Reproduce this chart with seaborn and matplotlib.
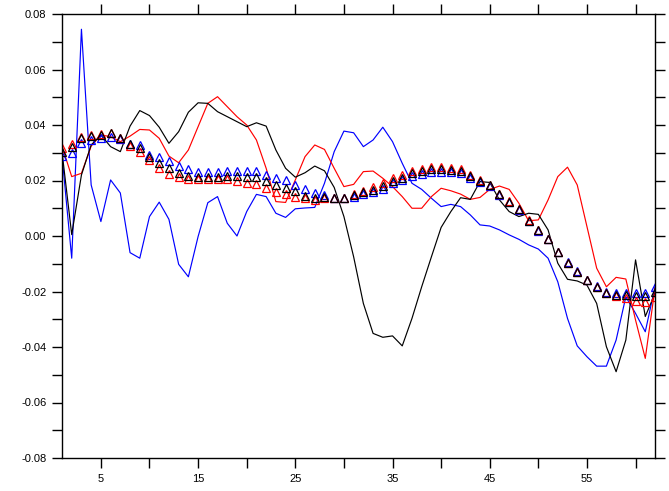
import numpy as np
import pandas as pd
import matplotlib
matplotlib.use("Agg")
import matplotlib.pyplot as plt
import seaborn as sns
from matplotlib.ticker import FixedLocator, NullFormatter, FixedFormatter

sns.set_style("ticks")
plt.rcParams['font.family'] = ['Liberation Sans', 'DejaVu Sans']

x = list(range(1, 63))

black_line = [0.0304, 0.0005, 0.022, 0.0328, 0.0364, 0.0322, 0.0304, 0.0396, 0.0452, 0.0434,
              0.0392, 0.0334, 0.0376, 0.0446, 0.048, 0.0478, 0.0448, 0.043, 0.0412, 0.0394,
              0.0408, 0.0396, 0.031, 0.0244, 0.0212, 0.0228, 0.0252, 0.0235, 0.0175, 0.007,
              -0.0075, -0.0243, -0.0351, -0.0365, -0.036, -0.0396, -0.0297, -0.0183, -0.0075, 0.0031,
              0.0088, 0.0138, 0.0132, 0.0196, 0.0193, 0.013, 0.0088, 0.007, 0.0082, 0.0078,
              0.0022, -0.0098, -0.0156, -0.0162, -0.0177, -0.0243, -0.0399, -0.0489, -0.0375, -0.0086,
              -0.029, -0.0207]

blue_line = [0.029, -0.008, 0.0745, 0.0184, 0.0052, 0.0202, 0.0155, -0.006, -0.008, 0.007,
             0.0122, 0.006, -0.0102, -0.0147, -0.0002, 0.012, 0.0142, 0.0046, 0.0, 0.0088,
             0.015, 0.0142, 0.0082, 0.0067, 0.0098, 0.0101, 0.0103, 0.019, 0.0304, 0.0378,
             0.0372, 0.0322, 0.0346, 0.0392, 0.034, 0.0262, 0.019, 0.0168, 0.0136, 0.0106,
             0.0114, 0.0106, 0.0076, 0.004, 0.0036, 0.0022, 0.0004, -0.0012, -0.0032, -0.0047,
             -0.008, -0.0165, -0.0297, -0.0396, -0.0435, -0.0469, -0.0469, -0.0375, -0.0219, -0.0279,
             -0.0345, -0.0183]

red_line = [0.0324, 0.0214, 0.0226, 0.0324, 0.0364, 0.0358, 0.034, 0.036, 0.0384, 0.0382,
            0.0352, 0.0288, 0.0264, 0.031, 0.0394, 0.0478, 0.0502, 0.0466, 0.043, 0.04,
            0.0346, 0.0244, 0.0124, 0.0121, 0.0202, 0.0286, 0.0328, 0.0312, 0.0244, 0.0178,
            0.0186, 0.0232, 0.0234, 0.0208, 0.0178, 0.0142, 0.01, 0.01, 0.0142, 0.0172,
            0.0163, 0.0151, 0.0132, 0.0139, 0.0168, 0.018, 0.0168, 0.0118, 0.0055, 0.0058,
            0.013, 0.0214, 0.0248, 0.0184, 0.0034, -0.0116, -0.0183, -0.0149, -0.0155, -0.0303,
            -0.0441, -0.0188]

black_tri = [0.0304, 0.032, 0.0352, 0.036, 0.0364, 0.037, 0.0352, 0.0331, 0.0318, 0.0286,
             0.0264, 0.0244, 0.0226, 0.0217, 0.0212, 0.0214, 0.0214, 0.0216, 0.0216, 0.0214,
             0.0212, 0.0198, 0.0184, 0.0172, 0.0162, 0.0144, 0.0136, 0.014, 0.0138, 0.0136,
             0.0146, 0.0157, 0.0166, 0.018, 0.0198, 0.021, 0.0226, 0.0234, 0.024, 0.0241,
             0.0238, 0.0234, 0.0216, 0.0199, 0.0184, 0.0151, 0.0124, 0.0097, 0.0055, 0.002,
             -0.0011, -0.0057, -0.0096, -0.0129, -0.0159, -0.0183, -0.0204, -0.0213, -0.0213, -0.0216,
             -0.0216, -0.02]

blue_tri = [0.029, 0.030, 0.0334, 0.0346, 0.0352, 0.0358, 0.0348, 0.0331, 0.0328, 0.0292,
            0.0284, 0.027, 0.0252, 0.024, 0.0232, 0.0232, 0.0232, 0.0234, 0.0234, 0.0234,
            0.0234, 0.022, 0.021, 0.0202, 0.0184, 0.0168, 0.0156, 0.0148, 0.0138, 0.0136,
            0.0142, 0.0151, 0.016, 0.017, 0.019, 0.0202, 0.0216, 0.0223, 0.023, 0.023,
            0.0229, 0.0228, 0.021, 0.0193, 0.0181, 0.0149, 0.0122, 0.0095, 0.0053, 0.0019,
            -0.0012, -0.0057, -0.0095, -0.0127, -0.0157, -0.018, -0.0201, -0.0205, -0.0204, -0.0204,
            -0.0204, -0.0183]

red_tri = [0.0317, 0.033, 0.0358, 0.0364, 0.0368, 0.0372, 0.0352, 0.0324, 0.0304, 0.0274,
           0.0244, 0.0222, 0.0214, 0.0205, 0.0205, 0.0205, 0.0205, 0.0205, 0.0199, 0.0192,
           0.0186, 0.0172, 0.016, 0.0151, 0.0142, 0.0136, 0.013, 0.0138, 0.0138, 0.0138,
           0.0151, 0.0163, 0.0175, 0.0192, 0.0208, 0.022, 0.0234, 0.0241, 0.0248, 0.025,
           0.0244, 0.0241, 0.022, 0.0201, 0.0185, 0.0152, 0.0125, 0.0098, 0.0056, 0.0021,
           -0.001, -0.0056, -0.0096, -0.013, -0.016, -0.0185, -0.0206, -0.0218, -0.0225, -0.0233,
           -0.0237, -0.0219]

xticks_labeled = [5, 15, 25, 35, 45, 55]
xticks_unlabeled = [10, 20, 30, 40, 50, 60]
yticks_labeled = [-0.08, -0.06, -0.04, -0.02, 0.0, 0.02, 0.04, 0.06, 0.08]
ytick_text = ["-0.08", "-0.06", "-0.04", "-0.02", "0.00", "0.02", "0.04", "0.06", "0.08"]
yticks_unlabeled = [-0.07, -0.05, -0.03, -0.01, 0.01, 0.03, 0.05, 0.07]

fig = plt.figure(figsize=(6.69, 4.91), dpi=100)
ax = fig.add_axes([62 / 669, 33 / 491, 593 / 669, 444 / 491])

lw = 0.85
sns.lineplot(x=x, y=blue_line, color="#0000ff", lw=lw, ax=ax)
sns.lineplot(x=x, y=red_line, color="#ff0000", lw=lw, ax=ax)
sns.lineplot(x=x, y=black_line, color="black", lw=lw, ax=ax)

for vals, c in [(blue_tri, "#0000ff"), (red_tri, "#ff0000"), (black_tri, "black")]:
    sns.lineplot(x=x, y=vals, ax=ax, linestyle="none", marker="^", markersize=6.2,
                 markerfacecolor="none", markeredgecolor=c, markeredgewidth=0.9, color=c)

ax.set_xlim(1, 62)
ax.set_ylim(-0.08, 0.08)

ax.xaxis.set_major_locator(FixedLocator(xticks_labeled))
ax.xaxis.set_minor_locator(FixedLocator(xticks_unlabeled))
ax.xaxis.set_major_formatter(FixedFormatter([str(v) for v in xticks_labeled]))
ax.xaxis.set_minor_formatter(NullFormatter())
ax.yaxis.set_major_locator(FixedLocator(yticks_labeled))
ax.yaxis.set_minor_locator(FixedLocator(yticks_unlabeled))
ax.yaxis.set_major_formatter(FixedFormatter(ytick_text))
ax.yaxis.set_minor_formatter(NullFormatter())

for which in ("major", "minor"):
    ax.tick_params(axis="both", which=which, direction="out", length=7.2, width=1.0,
                   top=True, right=True, labeltop=False, labelright=False, color="black")
ax.tick_params(axis="both", which="major", labelsize=8, pad=4, labelcolor="black")

for s in ax.spines.values():
    s.set_visible(True)
    s.set_linewidth(1.0)
    s.set_color("black")

ax.set_xlabel("")
ax.set_ylabel("")
fig.savefig("out.png", dpi=100)
